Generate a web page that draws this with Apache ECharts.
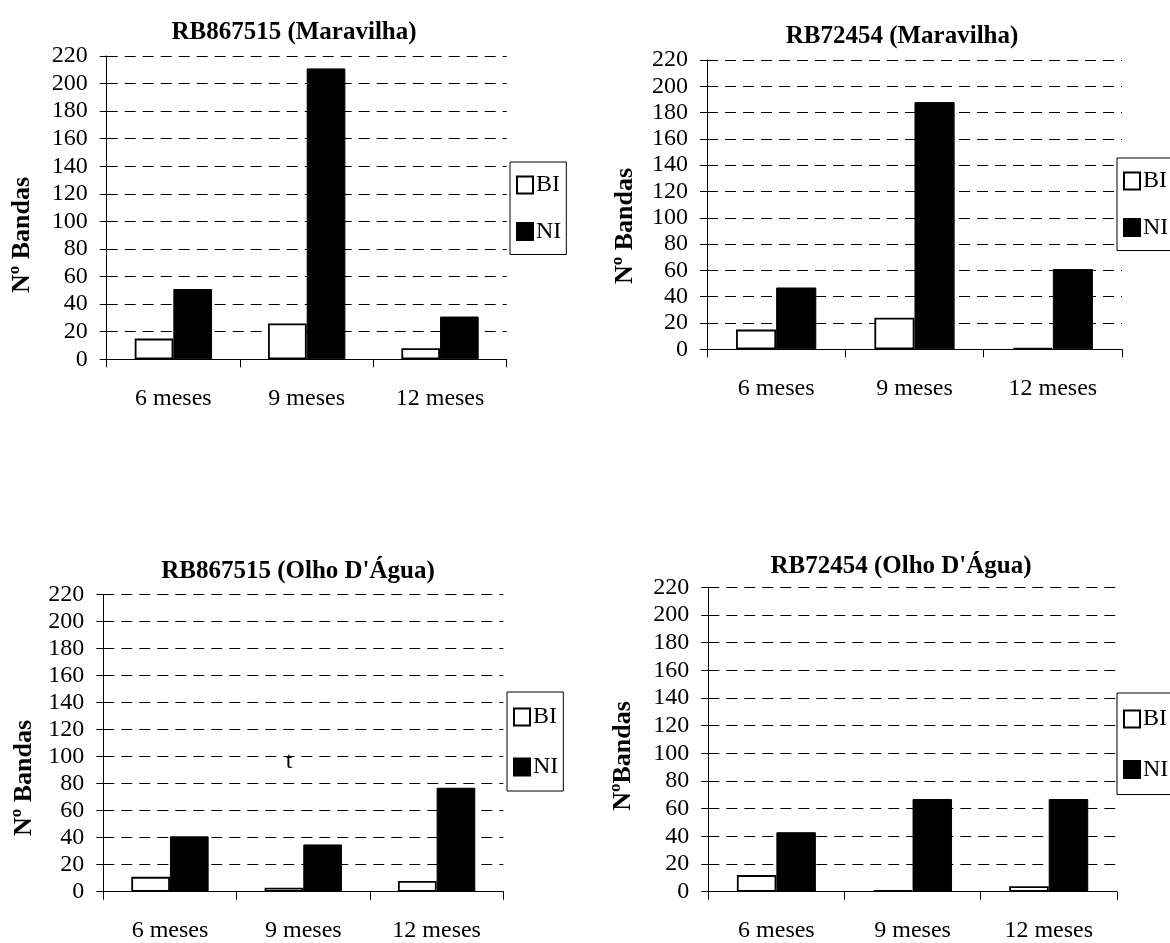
<!DOCTYPE html>
<html>
<head>
<meta charset="utf-8">
<script src="https://cdn.jsdelivr.net/npm/echarts@6/dist/echarts.min.js"></script>
<style>
html,body{margin:0;padding:0;background:#fff;}
#c{width:1170px;height:943px;}
</style>
</head>
<body>
<div id="c"></div>
<script>
const categories = ['6 meses', '9 meses', '12 meses'];
const seriesNames = ['BI', 'NI'];
const chartTitles = ['RB867515 (Maravilha)', 'RB72454 (Maravilha)', "RB867515 (Olho D'Água)", "RB72454 (Olho D'Água)"];
const yAxisNames = ['Nº Bandas', 'Nº Bandas', 'Nº Bandas', 'NºBandas'];
const yMin = 0, yMax = 220, yStep = 20;

const biMaravilha867515 = [15, 26, 8];
const niMaravilha867515 = [51, 211, 31];
const biMaravilha72454 = [15, 24, 1];
const niMaravilha72454 = [47, 188, 61];
const biOlho867515 = [11, 3, 8];
const niOlho867515 = [41, 35, 77];
const biOlho72454 = [12, 1, 4];
const niOlho72454 = [43, 67, 67];

const biData = [biMaravilha867515, biMaravilha72454, biOlho867515, biOlho72454];
const niData = [niMaravilha867515, niMaravilha72454, niOlho867515, niOlho72454];

const FONT = '"Liberation Serif", "Times New Roman", serif';

// layout
const grids = [
  {left: 106.7, top: 56, width: 400, height: 303.3},
  {left: 707, top: 60, width: 415, height: 289.3},
  {left: 103.3, top: 594.7, width: 400, height: 297},
  {left: 708.3, top: 587.3, width: 408.5, height: 304.4}
];
const titlePos = [[289, 15], [897, 19], [293, 554], [896, 549]];
const yNamePos = [[22, 235], [625, 226], [24, 778], [623, 756]];
const legendPos = [
  {left: 510, top: 162, pad: [11, 5, 11, 6], gap: 22.5},
  {left: 1117, top: 158, pad: [11, 5, 11, 6], gap: 22.5},
  {left: 507, top: 692, pad: [13, 5, 12, 6], gap: 26},
  {left: 1117, top: 693, pad: [14, 5, 13, 6], gap: 26.5}
];

const xAxes = [], yAxes = [], series = [], titles = [], legends = [], graphics = [];
for (let i = 0; i < 4; i++) {
  xAxes.push({
    type: 'category', gridIndex: i, data: categories,
    axisLine: {lineStyle: {color: '#000', width: 1}},
    axisTick: {show: true, length: 8, lineStyle: {color: '#000'}},
    axisLabel: {color: '#000', fontFamily: FONT, fontSize: 24, margin: 27, interval: 0},
    splitLine: {show: false}
  });
  yAxes.push({
    type: 'value', gridIndex: i, min: yMin, max: yMax, interval: yStep,
    axisLine: {show: true, lineStyle: {color: '#000', width: 1}},
    axisTick: {show: true, length: 7, lineStyle: {color: '#000'}},
    axisLabel: {color: '#000', fontFamily: FONT, fontSize: 24, margin: 19},
    splitLine: {show: true, lineStyle: {color: '#000', width: 1, type: [11, 7]}}
  });
  series.push({
    name: seriesNames[0], type: 'bar', xAxisIndex: i, yAxisIndex: i, data: biData[i],
    barGap: '0%', barCategoryGap: '42%',
    itemStyle: {color: '#fff', borderColor: '#000', borderWidth: 1.8},
    emphasis: {disabled: true}
  });
  series.push({
    name: seriesNames[1], type: 'bar', xAxisIndex: i, yAxisIndex: i, data: niData[i],
    barGap: '0%', barCategoryGap: '42%',
    itemStyle: {color: '#000', borderColor: '#000', borderWidth: 1},
    emphasis: {disabled: true}
  });
  titles.push({
    text: chartTitles[i], left: titlePos[i][0], top: titlePos[i][1], textAlign: 'center',
    textStyle: {fontFamily: FONT, fontSize: 25, fontWeight: 'bold', color: '#000'}
  });
  legends.push({
    data: seriesNames, orient: 'vertical', left: legendPos[i].left, top: legendPos[i].top,
    padding: legendPos[i].pad, itemGap: legendPos[i].gap, itemWidth: 16, itemHeight: 17,
    borderColor: '#000', borderWidth: 1, backgroundColor: '#fff', icon: 'rect',
    selectedMode: false,
    textStyle: {fontFamily: FONT, fontSize: 24, color: '#000', lineHeight: 24, padding: [0, 0, 0, -2]}
  });
  graphics.push({
    type: 'text', x: yNamePos[i][0], y: yNamePos[i][1], rotation: Math.PI / 2,
    style: {text: yAxisNames[i], fontFamily: FONT, fontSize: 26, fontWeight: 'bold', fill: '#000',
      align: 'center', verticalAlign: 'middle'}
  });
}
graphics.push({
  type: 'text', x: 289, y: 762,
  style: {text: 't', fontFamily: FONT, fontSize: 24, fill: '#000', align: 'center', verticalAlign: 'middle'}
});

const chart = echarts.init(document.getElementById('c'), null, {renderer: 'canvas'});
chart.setOption({
  animation: false,
  backgroundColor: '#fff',
  title: titles,
  legend: legends,
  grid: grids,
  xAxis: xAxes,
  yAxis: yAxes,
  series: series,
  graphic: graphics
});
</script>
</body>
</html>
